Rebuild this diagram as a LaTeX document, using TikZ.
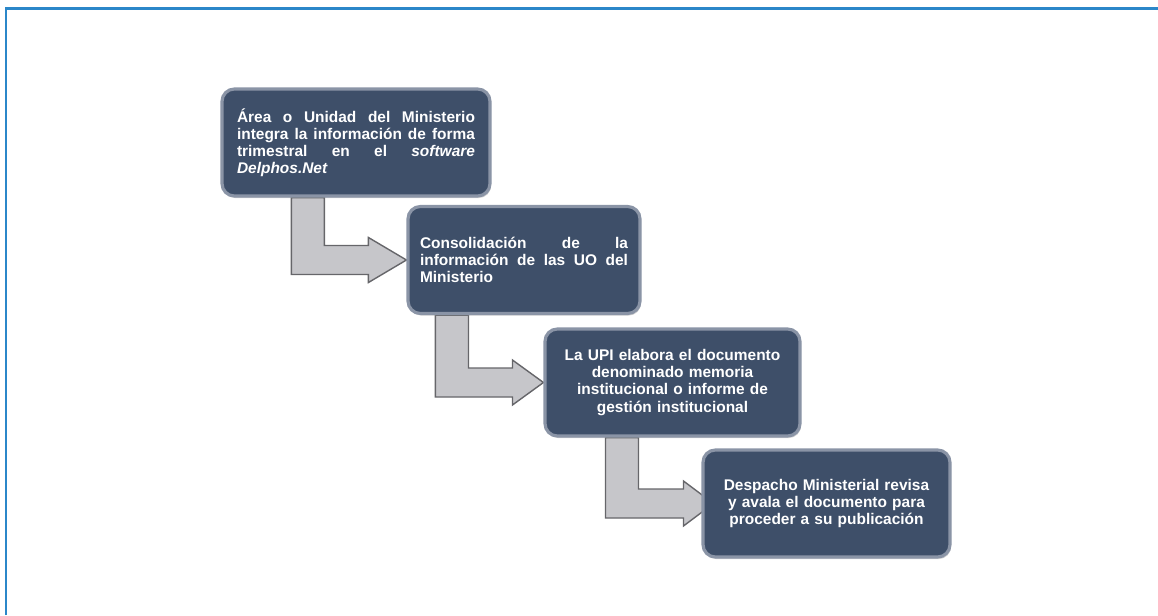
\documentclass[tikz,border=0pt]{standalone}
\usepackage{fontspec}
\setmainfont{Liberation Sans}
\usepackage{tikz}
\usetikzlibrary{calc}
\usetikzlibrary{positioning}
\usetikzlibrary{shadows}
\setlength{\parindent}{0pt}

\definecolor{marco}{HTML}{2B87C9}
\definecolor{cajafondo}{HTML}{3E4F69}
\definecolor{cajaborde}{HTML}{8A94A6}
\definecolor{flechafondo}{HTML}{C6C6CA}
\definecolor{flechaborde}{HTML}{66666A}

\pgfdeclarelayer{fondo}
\pgfsetlayers{fondo,main}

\begin{document}
\begin{tikzpicture}[x=0.02cm,y=-0.02cm,
                    etapa/.style={draw=cajaborde, line width=1.8pt, fill=cajafondo,
                                  rounded corners=7pt, text=white, inner sep=0pt,
                                  minimum height=2.14cm,
                                  font=\bfseries\fontsize{8.8}{9.7}\selectfont,
                                  drop shadow={opacity=0.35, shadow xshift=0.6pt,
                                               shadow yshift=-1.2pt}},
                    flecha/.style={draw=flechaborde, line width=0.8pt, fill=flechafondo}]
 \useasboundingbox (0,0) rectangle (1158,615);
 \draw[marco, line width=1.6pt] (6,615) -- (6,8.5) -- (1158,8.5);

 \node[etapa, minimum width=5.36cm, text width=4.76cm, align=justify] (e1) at (356,142.5)
   {\'Area o Unidad del Ministerio\linebreak
    integra la informaci\'on de forma\linebreak
    trimestral en el \textit{software}\linebreak
    \textit{Delphos.Net}};
 \node[etapa, minimum width=4.64cm, text width=4.16cm, align=justify] (e2) at (524,260)
   {Consolidaci\'on de la\linebreak
    informaci\'on de las UO del\linebreak
    Ministerio};
 \node[etapa, minimum width=5.1cm, text width=4.7cm, align=center] (e3) at (672.5,382.5)
   {La UPI elabora el documento\\
    denominado memoria\\
    institucional o informe de\\
    gesti\'on institucional};
 \node[etapa, minimum width=4.94cm, text width=4.5cm, align=center] (e4) at (826.5,503.5)
   {Despacho Ministerial revisa\\
    y avala el documento para\\
    proceder a su publicaci\'on};

 % puntas y fustes de las flechas
 \coordinate (t1) at (e2.west);
 \coordinate (s1) at ($(e2.west)+(-115,0)$);
 \coordinate (t2) at (e3.west);
 \coordinate (s2) at ($(e3.west)+(-108,0)$);
 \coordinate (t3) at ($(e4.west)+(12,0)$);
 \coordinate (s3) at ($(e4.west)+(-96,0)$);

 \begin{pgfonlayer}{fondo}
 \draw[flecha] (e1.south -| s1) -- ++(33,0) |- ($(t1)+(-38,-14.5)$) -- ++(0,-8)
               -- (t1) -- ++(-38,22.5) -- ++(0,-8) -| (e1.south -| s1) -- cycle;
 \draw[flecha] (e2.south -| s2) -- ++(33,0) |- ($(t2)+(-31,-14.5)$) -- ++(0,-8)
               -- (t2) -- ++(-31,22.5) -- ++(0,-8) -| (e2.south -| s2) -- cycle;
 \draw[flecha] (e3.south -| s3) -- ++(33,0) |- ($(t3)+(-30,-14.5)$) -- ++(0,-8)
               -- (t3) -- ++(-30,22.5) -- ++(0,-8) -| (e3.south -| s3) -- cycle;
 \end{pgfonlayer}
\end{tikzpicture}
\end{document}
